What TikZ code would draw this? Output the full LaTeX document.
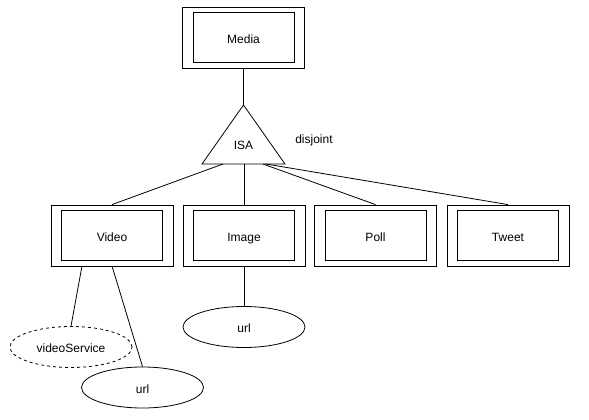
\documentclass[tikz,border=0pt]{standalone}
\usepackage{fontspec}
\setmainfont{Liberation Sans}
\usetikzlibrary{shapes.geometric}
\begin{document}
\begin{tikzpicture}[x=1pt,y=-1pt,
  line width=0.8pt,
  outerbox/.style={draw,rectangle,minimum width=122pt,minimum height=61pt,inner sep=0pt},
  innerbox/.style={draw,rectangle,minimum width=101pt,minimum height=50pt,inner sep=0pt,text height=12pt,text depth=0.4pt,font=\fontsize{12}{14}\selectfont},
  attr/.style={draw,ellipse,minimum width=122pt,minimum height=41pt,inner sep=0pt,text height=12pt,text depth=0.4pt,font=\fontsize{12}{14}\selectfont},
  lbl/.style={font=\fontsize{12}{14}\selectfont}]
\useasboundingbox (0,0) rectangle (589,420);
% entity boxes
\node[outerbox] (mediaO) at (243.5,37.5) {};
\node[innerbox] (media) at (243.5,37.5) {Media};
\node[outerbox] (videoO) at (112,235.5) {};
\node[innerbox] (video) at (112,235.5) {Video};
\node[outerbox] (imageO) at (244,235.5) {};
\node[innerbox] (image) at (244,235.5) {Image};
\node[outerbox] (pollO) at (375.5,235.5) {};
\node[innerbox] (poll) at (375.5,235.5) {Poll};
\node[outerbox] (tweetO) at (508,235.5) {};
\node[innerbox] (tweet) at (508,235.5) {Tweet};
% ISA triangle
\coordinate (isaTop) at (243.5,105);
\coordinate (isaL) at (202,164);
\coordinate (isaR) at (285,164);
\draw (isaTop) -- (isaR) -- (isaL) -- cycle;
\node[lbl] (isa) at (243.5,145) {ISA};
\node[lbl] (disj) at (314,140.5) {disjoint};
\coordinate (bVideo) at (223,164);
\coordinate (bImage) at (244,164);
\coordinate (bPoll) at (263,164);
\coordinate (bTweet) at (266,164);
\coordinate (vb1) at (82,266);
\coordinate (vb2) at (112,266);
% attributes
\node[attr,dashed] (vs) at (71,347) {videoService};
\node[attr] (vurl) at (142.5,387.5) {url};
\node[attr] (iurl) at (244,327) {url};
% connectors
\draw (mediaO.south) -- (isaTop);
\draw (bVideo) -- (videoO.north);
\draw (bImage) -- (imageO.north);
\draw (bPoll) -- (pollO.north);
\draw (bTweet) -- (tweetO.north);
\draw (vb1) -- (vs.north);
\draw (vb2) -- (vurl.north);
\draw (imageO.south) -- (iurl.north);
\end{tikzpicture}
\end{document}
